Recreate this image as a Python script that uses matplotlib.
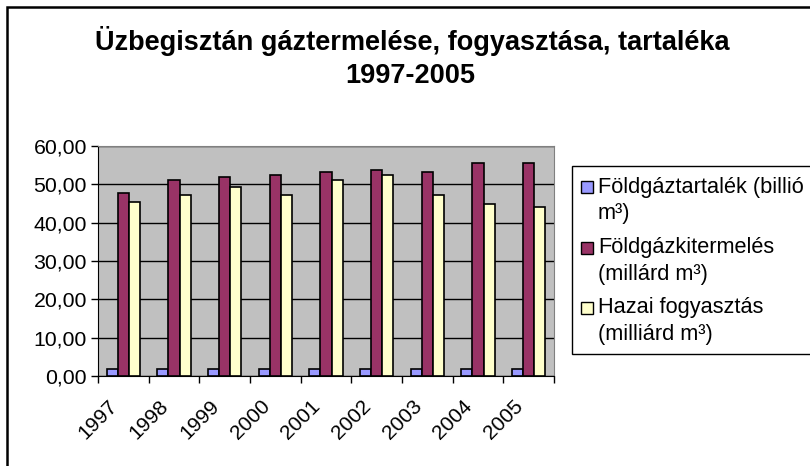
import matplotlib.pyplot as plt
import matplotlib.patches as mpatches
import numpy as np

years = ['1997', '1998', '1999', '2000', '2001', '2002', '2003', '2004', '2005']
tartalek = [1.85, 1.85, 1.85, 1.85, 1.85, 1.85, 1.85, 1.85, 1.85]
kitermeles = [47.7, 51.2, 52.0, 52.5, 53.3, 53.8, 53.3, 55.6, 55.6]
fogyasztas = [45.5, 47.2, 49.3, 47.2, 51.2, 52.5, 47.2, 45.0, 44.1]
labels = [['Földgáztartalék (billió', 'm³)'],
          ['Földgázkitermelés', '(millárd m³)'],
          ['Hazai fogyasztás', '(milliárd m³)']]
colors = ['#9999FF', '#993366', '#FFFFCC']

plt.rcParams['font.family'] = ['Liberation Sans', 'DejaVu Sans']

W, H = 810, 466
def fx(x):
    return x / W
def fy(y):
    return 1 - y / H

fig = plt.figure(figsize=(8.1, 4.66), dpi=100)
ax = fig.add_axes([fx(98), fy(376), 456/W, 230/H])
ax.set_facecolor('#C0C0C0')

x = np.arange(len(years))
w = 0.22
series = [tartalek, kitermeles, fogyasztas]
for i, (vals, c) in enumerate(zip(series, colors)):
    ax.bar(x + (i-1)*w, vals, w, color=c, edgecolor='black', linewidth=1.2, zorder=3)

ax.set_xlim(-0.5, len(years)-0.5)
ax.set_ylim(0, 60)
ax.set_yticks(np.arange(0, 61, 10))
ax.set_yticklabels(['%d,00' % v for v in range(0, 61, 10)], fontsize=15.3)
ax.yaxis.grid(True, color='black', linewidth=1, zorder=1)
ax.set_axisbelow(True)

# rotated year labels sit a little left of the category centre, as in the original
ax.set_xticks(x - 0.3)
ax.set_xticklabels(years, rotation=45, ha='right', rotation_mode='anchor', fontsize=15)
ax.set_xticks(np.arange(-0.5, len(years), 1), minor=True)
ax.tick_params(axis='x', which='major', length=0, pad=15)
ax.tick_params(axis='x', which='minor', length=5, width=1, direction='out')
ax.tick_params(axis='y', length=5, width=1, direction='out', pad=3)

for s in ['top', 'right']:
    ax.spines[s].set_color('#808080')
for s in ['left', 'bottom']:
    ax.spines[s].set_color('black')

# title
fig.text(fx(412), fy(50), 'Üzbegisztán gáztermelése, fogyasztása, tartaléka',
         ha='center', va='baseline', fontsize=19.5, fontweight='bold')
fig.text(fx(410), fy(83), '1997-2005',
         ha='center', va='baseline', fontsize=19.5, fontweight='bold')

# legend (drawn by hand, square aligned with first line like the original)
fig.patches.append(mpatches.Rectangle((fx(572), fy(354)), 300/W, 188/H,
                                      transform=fig.transFigure, facecolor='white',
                                      edgecolor='black', linewidth=1))
item_y = [187, 248, 308]
for yc, c, lines in zip(item_y, colors, labels):
    fig.patches.append(mpatches.Rectangle((fx(581), fy(yc + 6)), 12/W, 12/H,
                                          transform=fig.transFigure, facecolor=c,
                                          edgecolor='black', linewidth=1))
    for k, line in enumerate(lines):
        fig.text(fx(598), fy(yc + k*26.5), line, ha='left', va='center', fontsize=15.7)

# outer chart border
fig.patches.append(mpatches.Rectangle((fx(7), -0.1), 1.2, fy(7) + 0.1,
                                      transform=fig.transFigure, fill=False,
                                      edgecolor='black', linewidth=1.8))

plt.savefig('out.png', dpi=100)
